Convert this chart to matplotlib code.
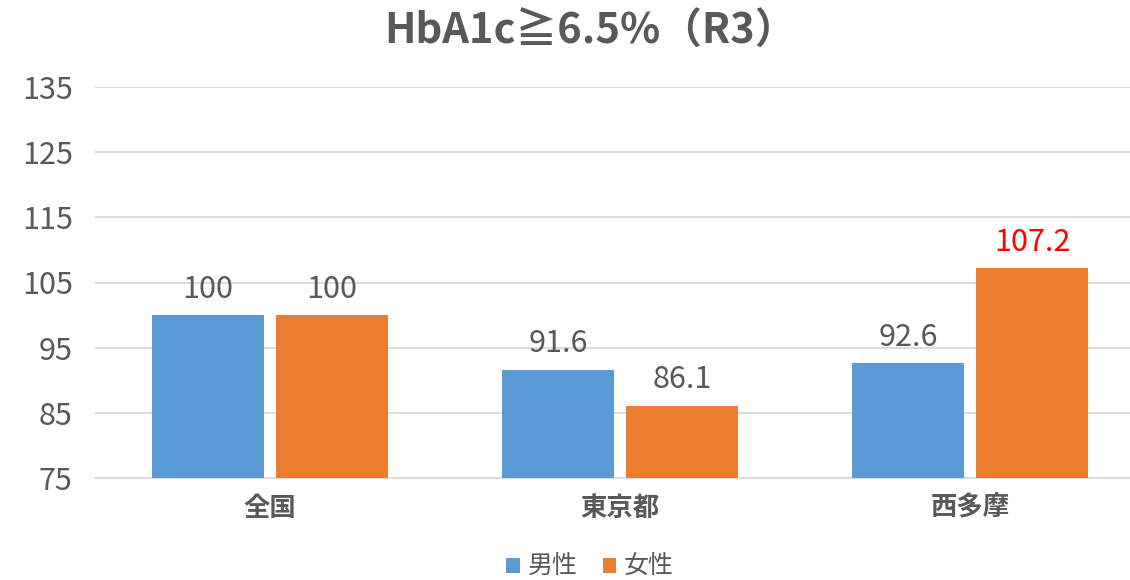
import numpy as np
import matplotlib
matplotlib.use('Agg')
import matplotlib.pyplot as plt

plt.rcParams['font.family'] = ['Noto Sans CJK JP', 'DejaVu Sans']

# データ
categories = ['全国', '東京都', '西多摩']
male = [100, 91.6, 92.6]
female = [100, 86.1, 107.2]
series_names = ['男性', '女性']
yticks = [75, 85, 95, 105, 115, 125, 135]

blue = '#5b9bd5'
orange = '#ed7d31'
gray = '#595959'

fig = plt.figure(figsize=(11.3, 5.8), dpi=100)
ax = fig.add_axes([95/1130, 102/580, 1050/1130, 391/580])

x = np.arange(len(categories))
w = 0.32
gap = 0.035
b1 = ax.bar(x - w/2 - gap/2, male, w, color=blue, label=series_names[0], zorder=3)
b2 = ax.bar(x + w/2 + gap/2, female, w, color=orange, label=series_names[1], zorder=3)

# 値ラベル
for rect, v in zip(b1, male):
    ax.text(rect.get_x() + rect.get_width()/2, v + 1.6, f'{v:g}',
            ha='center', va='bottom', fontsize=22, color=gray)
for rect, v in zip(b2, female):
    c = 'red' if v > 105 else gray
    ax.text(rect.get_x() + rect.get_width()/2, v + 1.6, f'{v:g}',
            ha='center', va='bottom', fontsize=22, color=c)

ax.set_ylim(75, 135)
ax.set_yticks(yticks)
ax.set_xlim(-0.5, 2.5)
ax.set_xticks(x)
ax.set_xticklabels(categories, fontsize=19, fontweight='bold', color=gray)
ax.tick_params(axis='y', labelsize=22, colors=gray, length=0, pad=16)
ax.tick_params(axis='x', length=0, pad=12)
ax.grid(axis='y', color='#d9d9d9', linewidth=1.3, zorder=0)
for s in ['top', 'right', 'left']:
    ax.spines[s].set_visible(False)
ax.spines['bottom'].set_color('#d9d9d9')
ax.spines['bottom'].set_linewidth(1.3)

fig.text(590/1130, 1 - 32/580, 'HbA1c≧6.5%（R3）', ha='center', va='center',
         fontsize=30, fontweight='bold', color=gray)

fig.legend(handles=[b1, b2], loc='center', bbox_to_anchor=(590/1130, 1 - 567/580),
           ncol=2, frameon=False, fontsize=18, handlelength=0.55, handleheight=0.55,
           handletextpad=0.3, columnspacing=1.0, labelcolor=gray)

fig.savefig('out.png', dpi=100)
